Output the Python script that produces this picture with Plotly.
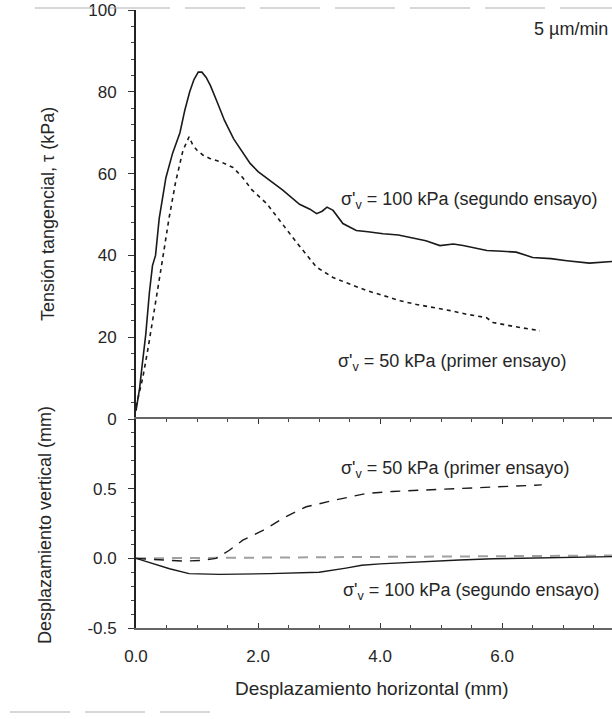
import plotly.graph_objects as go
from plotly.subplots import make_subplots

# ---- data ----
tau100_x = [0, 0.03, 0.06, 0.1, 0.16, 0.22, 0.27, 0.32, 0.38, 0.49, 0.6, 0.72, 0.8, 0.88, 0.95, 1.02,
            1.08, 1.15, 1.22, 1.33, 1.45, 1.6, 1.75, 1.87, 2.0, 2.14, 2.4, 2.68, 2.85, 2.96, 3.05, 3.13,
            3.23, 3.39, 3.61, 3.8, 4.05, 4.3, 4.49, 4.75, 4.98, 5.2, 5.36, 5.55, 5.75, 6.0, 6.23, 6.5,
            6.8, 7.06, 7.43, 7.8]
tau100_y = [2, 5, 7.6, 13, 20.7, 31, 37.5, 40, 49, 59, 65, 70, 75.5, 80, 83, 84.8,
            84.8, 83.5, 81.5, 77.5, 73, 68.5, 65, 62.5, 60.5, 59, 56, 52.5, 51.3, 50.2, 50.8, 51.8,
            51, 47.8, 46.1, 45.8, 45.3, 45, 44.4, 43.6, 42.4, 42.8, 42.4, 41.8, 41.2, 41, 40.8, 39.5,
            39.2, 38.7, 38.1, 38.5]

tau50_x = [0, 0.05, 0.11, 0.2, 0.33, 0.44, 0.54, 0.65, 0.77, 0.87, 0.93, 1.0, 1.1, 1.21, 1.4, 1.59,
           1.75, 1.9, 2.14, 2.4, 2.64, 2.96, 3.23, 3.5, 3.78, 4.05, 4.33, 4.6, 4.87, 5.15, 5.42, 5.74,
           5.85, 6.2, 6.62]
tau50_y = [3, 6, 10, 17.5, 29, 39.5, 49, 58, 65.7, 69, 67, 65.7, 64.5, 63.7, 62.8, 61.5,
           59, 56, 52.7, 47.5, 43, 37.1, 34.6, 33, 31.4, 30.2, 28.9, 28, 27.3, 26.5, 25.6, 24.8,
           23.6, 22.6, 21.6]

dv50_x = [0, 0.3, 0.55, 0.8, 1.09, 1.31, 1.53, 1.75, 2.08, 2.46, 2.79, 3.28, 3.77, 4.2, 4.75, 5.3, 5.85, 6.65]
dv50_y = [0, -0.01, -0.015, -0.02, -0.015, 0, 0.058, 0.13, 0.2, 0.3, 0.37, 0.42, 0.465, 0.48, 0.49, 0.505, 0.515, 0.527]

dv100_x = [0, 0.27, 0.55, 0.87, 1.37, 2.19, 3.0, 3.44, 3.7, 4.0, 4.4, 4.75, 5.3, 5.85, 6.5, 7.1, 7.8]
dv100_y = [0, -0.037, -0.075, -0.11, -0.115, -0.11, -0.1, -0.07, -0.05, -0.04, -0.03, -0.025, -0.012, -0.003, 0.003, 0.008, 0.012]

ref_x = [0, 3.7, 7.8]
ref_y = [0, 0.01, 0.02]

tau_ticks = [0, 20, 40, 60, 80, 100]
dv_ticks = [-0.5, 0.0, 0.5]
dv_ticktext = ["-0.5", "0.0", "0.5"]
x_ticks = [0, 2, 4, 6]
x_ticktext = ["0.0", "2.0", "4.0", "6.0"]

FONT = "Liberation Sans, Arial, sans-serif"
TXT = "#262626"
LINE = "#1a1a1a"
TS = 17   # tick labels
AS = 18   # annotations
VS = 18   # rotated titles
XS = 19   # x title

fig = make_subplots(rows=2, cols=1, shared_xaxes=True, vertical_spacing=0)

fig.add_trace(go.Scatter(x=tau100_x, y=tau100_y, mode="lines",
                         line=dict(color=LINE, width=1.6), showlegend=False), row=1, col=1)
fig.add_trace(go.Scatter(x=tau50_x, y=tau50_y, mode="lines",
                         line=dict(color=LINE, width=1.6, dash="4px,4px"), showlegend=False), row=1, col=1)
fig.add_trace(go.Scatter(x=ref_x, y=ref_y, mode="lines",
                         line=dict(color="#a0a0a0", width=2, dash="10px,8px"), showlegend=False), row=2, col=1)
fig.add_trace(go.Scatter(x=dv100_x, y=dv100_y, mode="lines",
                         line=dict(color=LINE, width=1.4), showlegend=False), row=2, col=1)
fig.add_trace(go.Scatter(x=dv50_x, y=dv50_y, mode="lines",
                         line=dict(color=LINE, width=1.4, dash="10px,8px"), showlegend=False), row=2, col=1)

dom_split = 209 / 618

fig.update_layout(
    width=612, height=719,
    margin=dict(l=136, r=0, t=10, b=91),
    paper_bgcolor="white", plot_bgcolor="white",
    font=dict(family=FONT, size=AS, color=TXT),
    xaxis=dict(range=[0, 7.8], showticklabels=False, showline=False,
               ticks="", showgrid=False, zeroline=False),
    yaxis=dict(domain=[dom_split, 1], range=[0, 100], tickvals=tau_ticks, ticks="outside", ticklen=6,
               tickcolor="#333", showline=True, linecolor="#222", linewidth=1.8, showgrid=False,
               zeroline=False, ticklabelstandoff=8,
               minor=dict(dtick=4, ticks="outside", ticklen=3, tickcolor="#444"),
               tickfont=dict(size=TS, color=TXT)),
    xaxis2=dict(range=[0, 7.8], tickvals=x_ticks, ticktext=x_ticktext, ticks="inside", ticklen=5,
                tickcolor="#333", showline=True, linecolor="#666", linewidth=1.5, mirror="ticks",
                showgrid=False, zeroline=False, ticklabelstandoff=12,
                minor=dict(dtick=0.5, ticks="inside", ticklen=3, tickcolor="#444"),
                tickfont=dict(size=TS, color=TXT)),
    yaxis2=dict(domain=[0, dom_split], range=[-0.5, 1.0], tickvals=dv_ticks, ticktext=dv_ticktext,
                ticks="outside", ticklen=6, tickcolor="#333", showline=True, linecolor="#222",
                linewidth=1.8, showgrid=False, zeroline=False, ticklabelstandoff=8,
                minor=dict(dtick=0.1, ticks="outside", ticklen=3, tickcolor="#444"),
                tickfont=dict(size=TS, color=TXT)),
)

ann = [
    dict(text="5 µm/min", x=7.77, y=95.4, xref="x", yref="y", xanchor="right"),
    dict(text="σ'<sub>v</sub> = 100 kPa (segundo ensayo)", x=5.47, y=53.5, xref="x", yref="y"),
    dict(text="σ'<sub>v</sub> = 50 kPa (primer ensayo)", x=5.18, y=13.7, xref="x", yref="y"),
    dict(text="σ'<sub>v</sub> = 50 kPa (primer ensayo)", x=5.23, y=0.635, xref="x2", yref="y2"),
    dict(text="σ'<sub>v</sub> = 100 kPa (segundo ensayo)", x=5.5, y=-0.24, xref="x2", yref="y2"),
    dict(text="Tensión tangencial, τ (kPa)", x=-88 / 476, y=1 - 204 / 618, xref="paper", yref="paper",
         textangle=-90, font=dict(size=VS)),
    dict(text="Desplazamiento vertical (mm)", x=-91 / 476, y=(628 - 525) / 618, xref="paper", yref="paper",
         textangle=-90, font=dict(size=VS)),
    dict(text="Desplazamiento horizontal (mm)", x=(372 - 136) / 476, y=-(688 - 628) / 618,
         xref="paper", yref="paper", font=dict(size=XS)),
]
for a in ann:
    a.setdefault("showarrow", False)
    a.setdefault("font", dict(size=AS))
    a.setdefault("xanchor", "center")
    a.setdefault("yanchor", "middle")
    fig.add_annotation(**a)

# scan frame lines (decorative)
fig.add_shape(type="line", xref="paper", yref="paper", x0=-101 / 476, x1=1.0, y0=1 + 2 / 618, y1=1 + 2 / 618,
              line=dict(color="#b0b0b0", width=1.2, dash="60px,15px"))
fig.add_shape(type="line", xref="paper", yref="paper", x0=-126 / 476, x1=74 / 476,
              y0=-(712 - 628) / 618, y1=-(712 - 628) / 618,
              line=dict(color="#b0b0b0", width=1.2, dash="60px,15px"))

fig.write_html("out.html")
